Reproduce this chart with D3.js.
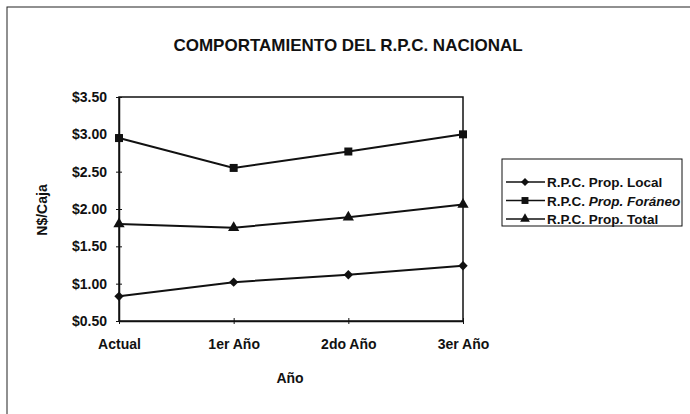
<!DOCTYPE html>
<html><head><meta charset="utf-8">
<script src="https://cdn.jsdelivr.net/npm/d3@7"></script>
<style>body{margin:0;background:#fff}svg{display:block}text{font-family:"Liberation Sans Narrow","Arial Narrow","Liberation Sans",Arial,sans-serif;font-weight:bold;fill:#111}</style>
</head><body><svg id="c" width="690" height="414"></svg>
<script>
const categories = ["Actual","1er Año","2do Año","3er Año"];
const local = [0.83,1.02,1.12,1.24];
const foraneo = [2.95,2.55,2.77,3.00];
const total = [1.80,1.75,1.89,2.06];
const yTicks = [0.5,1.0,1.5,2.0,2.5,3.0,3.5];
const seriesNames = ["R.P.C. Prop. Local","R.P.C. Prop. Foráneo","R.P.C. Prop. Total"];
const series = [
  {name: seriesNames[0], values: local, sym: d3.symbolSquare, size: 44, rot: 45},
  {name: seriesNames[1], values: foraneo, sym: d3.symbolSquare, size: 64, rot: 0},
  {name: seriesNames[2], values: total, sym: d3.symbolTriangle, size: 55, rot: 0}
];
const svg = d3.select("#c");
const L=119, R=463, T=97, B=321;
const x = d3.scalePoint().domain(categories).range([L,R]).padding(0);
const y = d3.scaleLinear().domain([0.5,3.5]).range([B,T]);

// outer frame
svg.append("rect").attr("x",7).attr("y",7).attr("width",700).attr("height",420)
  .attr("fill","none").attr("stroke","#222").attr("stroke-width",1);

svg.append("text").attr("x",348).attr("y",51).attr("text-anchor","middle")
  .style("font-size","17px").text("COMPORTAMIENTO DEL R.P.C. NACIONAL");

// plot box
svg.append("rect").attr("x",L).attr("y",T).attr("width",R-L).attr("height",B-T)
  .attr("fill","none").attr("stroke","#111").attr("stroke-width",1.5);

const yAxis = d3.axisLeft(y).tickValues(yTicks).tickSize(0).tickPadding(12)
  .tickFormat(d=>"$"+d3.format(".2f")(d));
const gy = svg.append("g").attr("transform",`translate(${L},0)`).call(yAxis);
gy.select(".domain").attr("stroke","#111").attr("stroke-width",1.5);
gy.selectAll(".tick text").style("font-size","14px").attr("fill","#111");
gy.selectAll(".tick").append("line").attr("x1",-3).attr("x2",3).attr("stroke","#111");

const xAxis = d3.axisBottom(x).tickSize(0).tickPadding(18);
const gx = svg.append("g").attr("transform",`translate(0,${B})`).call(xAxis);
gx.select(".domain").attr("stroke","#111").attr("stroke-width",1.5);
gx.selectAll(".tick text").style("font-size","14px").attr("fill","#111");
gx.selectAll(".tick").append("line").attr("y1",-3).attr("y2",3).attr("stroke","#111");

svg.append("text").attr("x",290).attr("y",383).attr("text-anchor","middle")
  .style("font-size","14px").text("Año");
svg.append("text").attr("transform","translate(47,210) rotate(-90)").attr("text-anchor","middle")
  .style("font-size","14px").text("N$/Caja");

const line = d3.line().x((d,i)=>x(categories[i])).y(d=>y(d));
series.forEach(s=>{
  svg.append("path").datum(s.values).attr("d",line).attr("fill","none")
    .attr("stroke","#111").attr("stroke-width",2);
  svg.selectAll(null).data(s.values).enter().append("path")
    .attr("d",d3.symbol().type(s.sym).size(s.size))
    .attr("transform",(d,i)=>`translate(${x(categories[i])},${y(d)}) rotate(${s.rot})`)
    .attr("fill","#111");
});

// legend
const lg = svg.append("g");
lg.append("rect").attr("x",502).attr("y",159).attr("width",180).attr("height",67)
  .attr("fill","#fff").attr("stroke","#111").attr("stroke-width",1);
series.forEach((s,i)=>{
  const yy = 182 + i*18.5;
  lg.append("line").attr("x1",506).attr("x2",545).attr("y1",yy).attr("y2",yy)
    .attr("stroke","#111").attr("stroke-width",1.5);
  lg.append("path").attr("d",d3.symbol().type(s.sym).size(s.size*0.75))
    .attr("transform",`translate(525,${yy}) rotate(${s.rot})`).attr("fill","#111");
  const t = lg.append("text").attr("x",547).attr("y",yy+5).style("font-size","13.5px");
  if (i===1) {
    t.append("tspan").text("R.P.C. ");
    t.append("tspan").style("font-style","italic").text("Prop. Foráneo");
  } else t.text(s.name);
});
</script></body></html>
